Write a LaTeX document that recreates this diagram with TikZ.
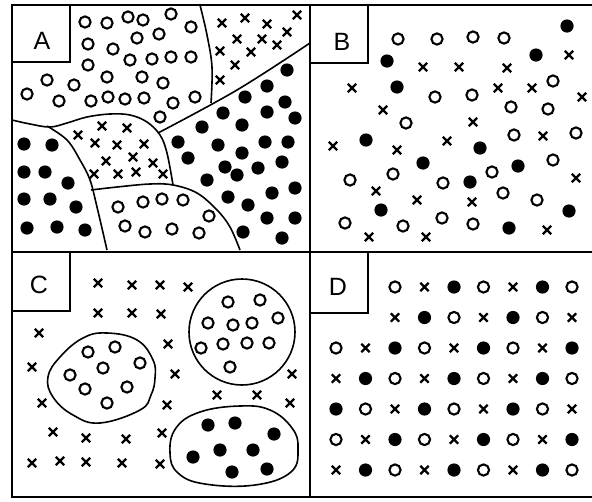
\documentclass[tikz,border=0pt]{standalone}
\usepackage{fontspec}
\setmainfont{Liberation Sans}
\begin{document}
\begin{tikzpicture}[x=1pt, y=-1pt,
    ring/.style={line width=2.1pt},
    xmk/.style={line width=2.2pt},
    blob/.style={line width=1.6pt},
    frame/.style={line width=2.4pt},
    tag/.style={font=\fontsize{25}{25}\selectfont}]
    % Khung hình: toạ độ tính theo điểm ảnh, gốc ở góc trên trái
    \useasboundingbox (0,0) rectangle (592,501);

    % Khung ngoài và hai đường chia bốn ô
    \draw[frame] (592,5) -- (12,5) -- (12,497) -- (592,497);
    \draw[line width=2.2pt] (310,5) -- (310,497);
    \draw[line width=2.2pt] (12,252) -- (592,252);

    % Ô nhãn A, B, C, D
    \draw[line width=1.6pt] (12,62) -- (70,62) -- (70,5);
    \draw[line width=1.6pt] (310,63) -- (368,63) -- (368,5);
    \draw[line width=1.6pt] (12,311) -- (70,311) -- (70,252);
    \draw[line width=1.6pt] (310,313) -- (368,313) -- (368,252);
    \node[tag] (labA) at (42,41) {A};
    \node[tag] (labB) at (342,42) {B};
    \node[tag] (labC) at (39,285) {C};
    \node[tag] (labD) at (338,287) {D};

    % Ô A: các đường biên giữa các vùng
    \draw[blob] plot[smooth, tension=0.6] coordinates {(12,120) (30,124) (50,127) (67,123) (87,117) (110,114) (130,115) (147,122) (160,135) (167,153) (173,185)};
    \draw[blob] plot[smooth, tension=0.6] coordinates {(47,126) (67,140) (80,160) (90,180) (97,207) (107,250)};
    \draw[blob] plot[smooth, tension=0.6] coordinates {(91,190) (117,187) (150,184) (173,185) (197,193) (217,210) (230,227) (240,250)};
    \draw[blob] plot[smooth, tension=0.6] coordinates {(158,133) (237,90) (310,43)};
    \draw[blob] plot[smooth, tension=0.6] coordinates {(200,5) (207,35) (212,67) (211,103)};

    % Ô A: vòng tròn rỗng
    \foreach \x/\y in {85/22, 107/23, 128/17, 143/20, 171/14, 191/27, 88/44, 137/38, 159/34,
        113/49, 130/60, 152/59, 171/57, 191/57, 88/65, 47/80, 74/85, 107/77, 142/77, 163/83,
        27/94, 59/101, 91/101, 108/97, 125/99, 144/98, 173/103, 195/97, 160/117,
        118/207, 143/202, 162/199, 183/200, 209/216, 125/226, 145/232, 172/229, 199/233}
        \draw[ring] (\x,\y) circle (5.6);
    % Ô A: chấm đen
    \foreach \x/\y in {24/144, 52/145, 24/172, 45/172, 68/183, 24/199, 50/199, 76/207, 27/228, 57/227, 85/230,
        287/70, 267/86, 245/97, 285/102, 223/113, 267/112, 295/118, 202/127, 242/125, 178/142,
        218/145, 265/142, 288/142, 188/158, 242/153, 225/167, 237/175, 258/168, 282/162, 207/180,
        272/193, 295/188, 228/197, 248/205, 267/218, 295/218, 243/232, 282/238}
        \fill (\x,\y) circle (6.6);
    % Ô A: dấu nhân
    \foreach \x/\y in {222/23, 245/18, 267/24, 297/15, 287/32, 237/39, 262/39, 277/45, 220/51, 251/52, 235/65, 220/80,
        102/126, 127/128, 78/135, 95/143, 117/145, 144/144, 133/157, 106/161, 153/163, 94/174, 118/174, 136/172, 163/174}
        \draw[xmk] (\x-4.2,\y-4.2) -- (\x+4.2,\y+4.2) (\x-4.2,\y+4.2) -- (\x+4.2,\y-4.2);

    % Ô B: ba loại điểm trộn lẫn ngẫu nhiên
    \foreach \x/\y in {398/39, 437/39, 473/37, 504/38, 435/97, 472/95, 553/81, 511/107, 548/109, 406/123,
        514/135, 576/133, 553/160, 492/172, 393/174, 350/180, 443/183, 503/193, 537/200, 345/223,
        403/226, 442/218, 473/224}
        \draw[ring] (\x,\y) circle (5.6);
    \foreach \x/\y in {567/26, 536/55, 387/61, 397/87, 366/140, 480/148, 423/163, 518/166, 470/182, 381/210, 569/211, 509/228}
        \fill (\x,\y) circle (6.6);
    \foreach \x/\y in {569/55, 423/67, 459/67, 507/68, 352/88, 498/88, 532/88, 582/97, 383/110, 473/122, 333/146,
        447/141, 397/150, 543/136, 576/178, 376/191, 417/200, 472/202, 369/237, 426/237, 547/230}
        \draw[xmk] (\x-4.2,\y-4.2) -- (\x+4.2,\y+4.2) (\x-4.2,\y+4.2) -- (\x+4.2,\y-4.2);

    % Ô C: ba cụm có viền bao, dấu nhân ở ngoài
    \draw[blob] plot[smooth cycle, tension=0.7] coordinates {(48,377) (60,357) (83,338) (107,333) (137,340) (153,360) (155,378) (151,395) (140,410) (100,423) (73,415) (53,397)};
    \draw[blob] (242,332) circle (53);
    \draw[blob] plot[smooth cycle, tension=0.7] coordinates {(170,453) (176,428) (200,412) (240,406) (270,410) (292,428) (298,448) (291,472) (255,485) (205,484) (178,473)};
    \foreach \x/\y in {88/352, 115/347, 140/363, 103/368, 70/375, 85/389, 127/387, 107/403,
        228/302, 260/300, 278/318, 208/323, 233/325, 252/323, 201/348, 223/344, 247/343, 269/343, 230/367}
        \draw[ring] (\x,\y) circle (5.6);
    \foreach \x/\y in {208/425, 235/423, 274/434, 193/457, 220/450, 253/450, 232/472, 267/469}
        \fill (\x,\y) circle (6.6);
    \foreach \x/\y in {98/283, 132/285, 160/285, 188/287, 98/313, 132/313, 161/314, 39/333, 168/344, 32/367,
        175/374, 292/374, 42/403, 167/405, 217/395, 257/395, 290/403, 53/432, 86/438, 126/439, 162/433,
        32/463, 60/461, 86/462, 122/463, 160/464}
        \draw[xmk] (\x-4.2,\y-4.2) -- (\x+4.2,\y+4.2) (\x-4.2,\y+4.2) -- (\x+4.2,\y-4.2);

    % Ô D: lưới đều, loại điểm = (cột + hàng) mod 3
    \foreach \r in {1,...,7}
        \foreach \c in {0,...,8} {
            \pgfmathsetmacro{\px}{336+29.5*\c}
            \pgfmathsetmacro{\py}{287+30.5*(\r-1)}
            \pgfmathtruncatemacro{\kind}{mod(\c+\r,3)}
            \pgfmathtruncatemacro{\skip}{(\r<3)&&(\c<2)}
            \ifnum\skip=0
                \ifcase\kind
                    \draw[ring] (\px,\py) circle (5.6);
                \or
                    \draw[xmk] (\px-4.2,\py-4.2) -- (\px+4.2,\py+4.2) (\px-4.2,\py+4.2) -- (\px+4.2,\py-4.2);
                \or
                    \fill (\px,\py) circle (6.6);
                \fi
            \fi
        }

\end{tikzpicture}
\end{document}
